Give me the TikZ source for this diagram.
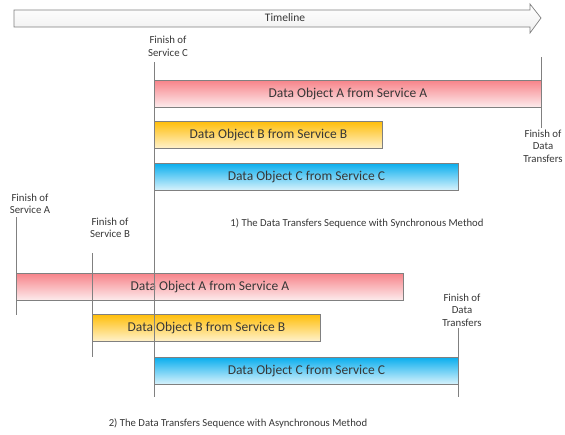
\documentclass[tikz,border=0pt]{standalone}
\usepackage{fontspec}
\setmainfont{Carlito}
\usetikzlibrary{positioning}
\definecolor{redtop}{RGB}{247,132,138}
\definecolor{redbot}{RGB}{253,236,237}
\definecolor{orangetop}{RGB}{255,190,10}
\definecolor{orangebot}{RGB}{255,242,205}
\definecolor{bluetop}{RGB}{10,174,238}
\definecolor{bluebot}{RGB}{218,243,252}
\definecolor{edgegray}{RGB}{128,128,128}
\definecolor{textgray}{RGB}{55,55,55}
\tikzset{
	x=1pt, y=-1pt, % one unit is one pixel of the layout, y grows downwards
	every node/.style={text=textgray, align=center, inner sep=1pt, font=\fontsize{10.8}{12.5}\selectfont},
	bar/.style={draw=edgegray, line width=0.8pt, anchor=north west, minimum height=27pt, inner sep=0pt, font=\fontsize{13.5}{15}\selectfont}, % a transfer bar
	redbar/.style={bar, top color=redtop, bottom color=redbot},
	orangebar/.style={bar, top color=orangetop, bottom color=orangebot},
	bluebar/.style={bar, top color=bluetop, bottom color=bluebot},
	marker/.style={draw=edgegray, line width=0.7pt}, % finish lines
	caption/.style={font=\fontsize{10.7}{12}\selectfont},
}
\begin{document}
\begin{tikzpicture}
	\useasboundingbox (0,0) rectangle (565,434);
	% timeline
	\draw[edgegray, line width=0.7pt, top color=white, bottom color=gray!12]
		(14,10) -- (530,10) -- (530,4) -- (541,18) -- (530,33) -- (530,27) -- (14,27) -- cycle;
	\node[font=\fontsize{11.5}{13}\selectfont] (timeline) at (285,18) {Timeline};

	% synchronous method
	\node[redbar, minimum width=387pt] (syncA) at (154,80) {Data Object A from Service A};
	\node[orangebar, minimum width=228pt] (syncB) at (154,121) {Data Object B from Service B};
	\node[bluebar, minimum width=304pt] (syncC) at (154,163) {Data Object C from Service C};
	\node (finC) at (168,46.5) {Finish of\\Service C};
	\node (finSync) at (543,146) {Finish of\\Data\\Transfers};
	\coordinate (topC) at (154,62);
	\coordinate (topSync) at (541,57);
	\coordinate (endSync) at (541,128);
	\node[caption] (capSync) at (357,223) {1) The Data Transfers Sequence with Synchronous Method};

	% asynchronous method
	\node[redbar, minimum width=387pt] (asyncA) at (16,273) {Data Object A from Service A};
	\node[orangebar, minimum width=228pt] (asyncB) at (92,314) {Data Object B from Service B};
	\node[bluebar, minimum width=304pt] (asyncC) at (154,357) {Data Object C from Service C};
	\node (finA) at (30,204) {Finish of\\Service A};
	\node (finB) at (110,228) {Finish of\\Service B};
	\node (finAsync) at (462,310) {Finish of\\Data\\Transfers};
	\coordinate (topA) at (16,217);
	\coordinate (topB) at (92,253);
	\coordinate (topAsync) at (458,328);
	\coordinate (endA) at (16,315);
	\coordinate (endB) at (92,357);
	\coordinate (endC) at (154,397);
	\coordinate (endAsync) at (458,397);
	\node[caption] (capAsync) at (238,423) {2) The Data Transfers Sequence with Asynchronous Method};

	% finish lines
	\draw[marker] (topC) -- (endC);
	\draw[marker] (topSync) -- (endSync);
	\draw[marker] (topA) -- (endA);
	\draw[marker] (topB) -- (endB);
	\draw[marker] (topAsync) -- (endAsync);
\end{tikzpicture}
\end{document}
